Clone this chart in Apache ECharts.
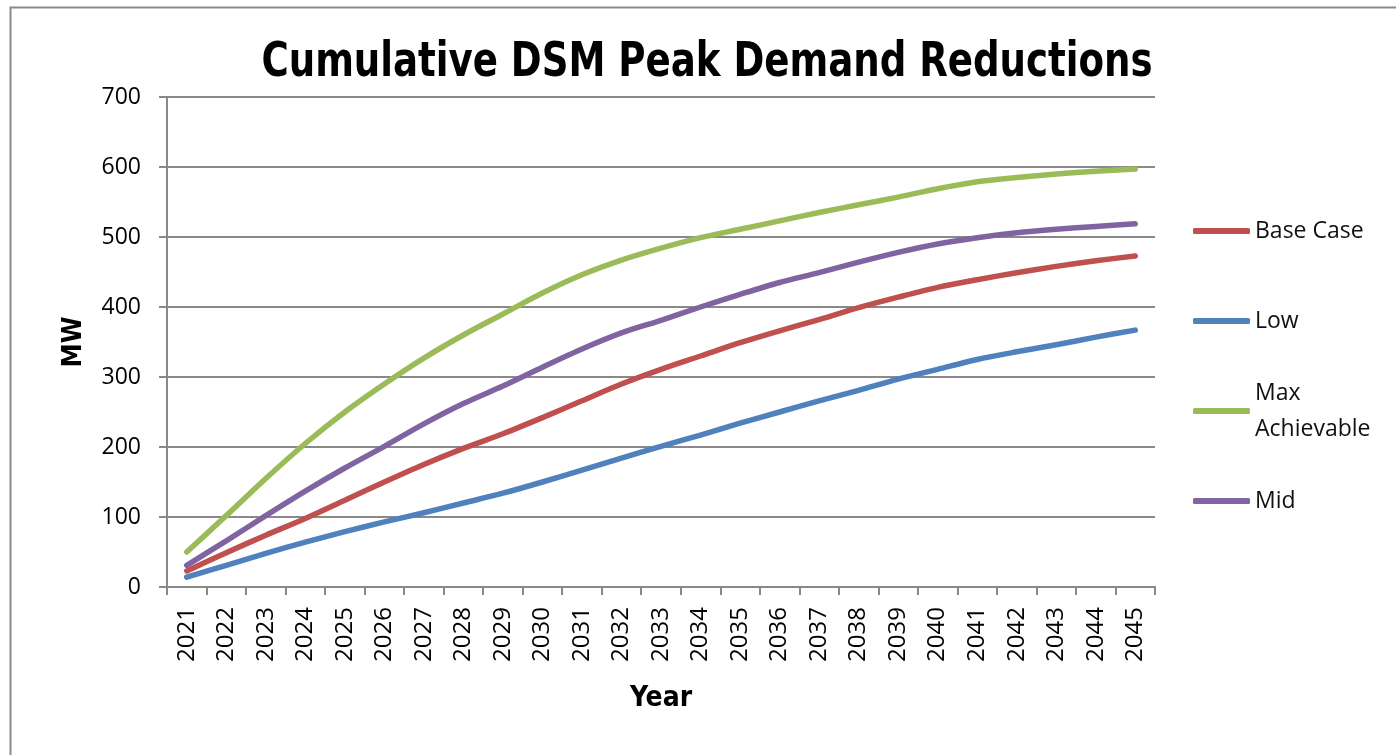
<!DOCTYPE html>
<html>
<head>
<meta charset="utf-8">
<script src="https://cdn.jsdelivr.net/npm/echarts@6/dist/echarts.min.js"></script>
<style>
html,body{margin:0;padding:0;background:#fff;}
#chart{width:1396px;height:755px;}
</style>
</head>
<body>
<div id="chart"></div>
<script>
const years = ['2021','2022','2023','2024','2025','2026','2027','2028','2029','2030','2031','2032','2033','2034','2035','2036','2037','2038','2039','2040','2041','2042','2043','2044','2045'];
const baseCase = [23, 49, 74, 98, 124, 150, 175, 198, 219, 242, 266, 290, 311, 330, 349, 366, 382, 399, 414, 428, 439, 449, 458, 466, 473];
const low = [14, 31, 48, 64, 79, 93, 106, 120, 134, 150, 167, 184, 201, 217, 234, 250, 266, 281, 297, 311, 325, 336, 346, 357, 367];
const maxAchievable = [50, 102, 155, 205, 250, 290, 327, 360, 390, 420, 446, 467, 484, 499, 511, 523, 535, 546, 557, 569, 579, 585, 590, 594, 597];
const mid = [31, 66, 102, 137, 170, 201, 233, 262, 287, 314, 340, 363, 381, 400, 418, 435, 449, 464, 478, 490, 499, 506, 511, 515, 519];
const yTicks = [0, 700, 100];
const titleText = 'Cumulative DSM Peak Demand Reductions';

const FONT = "'Open Sans', 'DejaVu Sans', sans-serif";
const BOLD = "'DejaVu Sans Condensed', 'DejaVu Sans', sans-serif";
const GRID_C = '#898989';

function mkLine(name, data, color) {
  return {
    name: name, type: 'line', data: data, smooth: 0.3, symbol: 'none',
    lineStyle: { color: color, width: 5.5, cap: 'round', join: 'round' },
    itemStyle: { color: color }
  };
}
function mkLegend(name, top, extra) {
  return Object.assign({
    data: [name], orient: 'vertical', left: 1193, top: top, padding: 0,
    icon: 'roundRect', itemWidth: 57, itemHeight: 6, itemGap: 0,
    selectedMode: false,
    textStyle: { fontFamily: FONT, fontSize: 23, color: '#111', lineHeight: 36 }
  }, extra || {});
}

const chart = echarts.init(document.getElementById('chart'), null, { renderer: 'canvas' });
chart.setOption({
  animation: false,
  backgroundColor: '#fff',
  graphic: [{
    type: 'rect', left: 8, top: 5, silent: true, z: -1,
    shape: { width: 1500, height: 900 },
    style: { fill: 'none', stroke: '#8a8a8a', lineWidth: 2 }
  }, {
    type: 'text', x: 707, y: 64, scaleX: 0.86, silent: true,
    style: {
      text: titleText, textAlign: 'center', textVerticalAlign: 'middle',
      fontFamily: BOLD, fontWeight: 'bold', fontSize: 48, fill: '#000'
    }
  }],
  legend: [
    mkLegend('Base Case', 213),
    mkLegend('Low', 303),
    mkLegend('Max Achievable', 357, {
      formatter: function (n) { return 'Max\nAchievable'; },
      textStyle: { fontFamily: FONT, fontSize: 23, color: '#111', lineHeight: 36, padding: [36, 0, 0, 0] }
    }),
    mkLegend('Mid', 483)
  ],
  grid: { left: 167, right: 241, top: 97, bottom: 168, containLabel: false },
  xAxis: {
    type: 'category', data: years, boundaryGap: true,
    name: 'Year', nameLocation: 'middle', nameGap: 98,
    nameTextStyle: { fontFamily: BOLD, fontWeight: 'bold', fontSize: 28, color: '#000' },
    axisLine: { show: true, lineStyle: { color: GRID_C, width: 2 } },
    axisTick: { show: true, length: 8, inside: false, alignWithLabel: false, interval: 0, lineStyle: { color: GRID_C, width: 2 } },
    axisLabel: { rotate: 90, interval: 0, margin: 20, fontFamily: FONT, fontSize: 24, color: '#000' },
    splitLine: { show: false }
  },
  yAxis: {
    type: 'value', min: yTicks[0], max: yTicks[1], interval: yTicks[2],
    name: 'MW', nameLocation: 'middle', nameGap: 80, nameRotate: 90,
    nameTextStyle: { fontFamily: BOLD, fontWeight: 'bold', fontSize: 27, color: '#000' },
    axisLine: { show: true, lineStyle: { color: GRID_C, width: 2 } },
    axisTick: { show: true, length: 8, inside: false, lineStyle: { color: GRID_C, width: 2 } },
    axisLabel: { margin: 26, fontFamily: FONT, fontSize: 23, color: '#000' },
    splitLine: { show: true, lineStyle: { color: GRID_C, width: 2 } }
  },
  series: [
    mkLine('Base Case', baseCase, '#C0504D'),
    mkLine('Low', low, '#4F81BD'),
    mkLine('Max Achievable', maxAchievable, '#9BBB59'),
    mkLine('Mid', mid, '#8064A2')
  ]
});
</script>
</body>
</html>
